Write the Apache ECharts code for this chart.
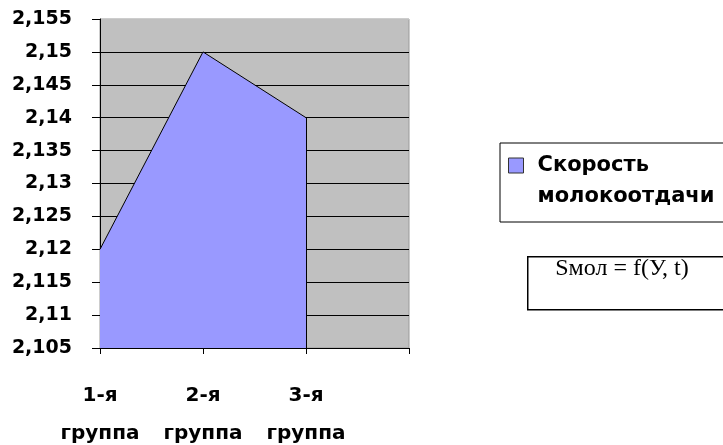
<!DOCTYPE html>
<html><head><meta charset="utf-8">
<script src="https://cdn.jsdelivr.net/npm/echarts@6/dist/echarts.min.js"></script>
<style>html,body{margin:0;padding:0;background:#fff}#c{width:723px;height:445px}</style>
</head><body><div id="c"></div>
<script>
var categories = ['1-я\nгруппа', '2-я\nгруппа', '3-я\nгруппа', ''];
var values = [2.12, 2.15, 2.14];
var seriesName = 'Скорость\nмолокоотдачи';
var formulaText = 'Sмол = f(У, t)';
var yMin = 2.105, yMax = 2.155, yStep = 0.005;

var chart = echarts.init(document.getElementById('c'));
var F = 'DejaVu Sans';
var nLines = Math.round((yMax - yMin) / yStep) + 1;
var splitColors = [];
for (var i = 0; i < nLines; i++) splitColors.push(i === nLines - 1 ? '#C0C0C0' : '#000');
chart.setOption({
  animation: false,
  grid: {left: 100, right: 314, top: 19, bottom: 97, show: true, backgroundColor: '#C0C0C0', borderColor: '#9a9a9a', borderWidth: 1, containLabel: false, outerBoundsMode: 'none'},
  xAxis: {
    type: 'category', data: categories, boundaryGap: false,
    axisLine: {lineStyle: {color: '#000', width: 1}},
    axisTick: {show: true, length: 6, lineStyle: {color: '#000'}},
    axisLabel: {color: '#000', fontFamily: F, fontWeight: 'bold', fontSize: 20, lineHeight: 38, margin: 29, interval: 0},
    splitLine: {show: false}
  },
  yAxis: {
    type: 'value', min: yMin, max: yMax, interval: yStep,
    axisLine: {show: true, lineStyle: {color: '#000', width: 1}},
    axisTick: {show: true, length: 8, lineStyle: {color: '#000'}},
    axisLabel: {color: '#000', fontFamily: F, fontWeight: 'bold', fontSize: 19, margin: 28,
      formatter: function (v) { return String(parseFloat(v.toFixed(3))).replace('.', ','); }},
    splitLine: {show: true, lineStyle: {color: splitColors, width: 1}}
  },
  legend: {
    show: true, left: 500, top: 143, orient: 'vertical',
    data: [seriesName],
    itemWidth: 15, itemHeight: 46, itemGap: 0,
    borderColor: '#000', borderWidth: 1,
    padding: [7, 22, 10, 8],
    icon: 'path://M0,0h15v15h-15z m0,46',
    itemStyle: {color: '#9999FF', borderColor: '#333', borderWidth: 1},
    textStyle: {color: '#000', fontFamily: F, fontWeight: 'bold', fontSize: 21, lineHeight: 31, padding: [0, 0, 0, 9]}
  },
  graphic: [
    {type: 'rect', left: 527, top: 256, shape: {width: 210, height: 53}, style: {fill: '#fff', stroke: '#000', lineWidth: 1.5}},
    {type: 'text', x: 622, y: 269, style: {text: formulaText, fontFamily: 'Liberation Serif', fontSize: 24, fill: '#000', align: 'center', verticalAlign: 'middle'}}
  ],
  series: [{
    name: seriesName, type: 'line', data: values, symbol: 'none',
    lineStyle: {color: '#000', width: 1},
    itemStyle: {color: '#9999FF'},
    areaStyle: {color: '#9999FF', opacity: 1},
    markLine: {silent: true, symbol: 'none', label: {show: false},
      lineStyle: {color: '#000', width: 1, type: 'solid'},
      data: [[{coord: [2, values[2]]}, {coord: [2, yMin]}]]}
  }]
});
</script></body></html>
